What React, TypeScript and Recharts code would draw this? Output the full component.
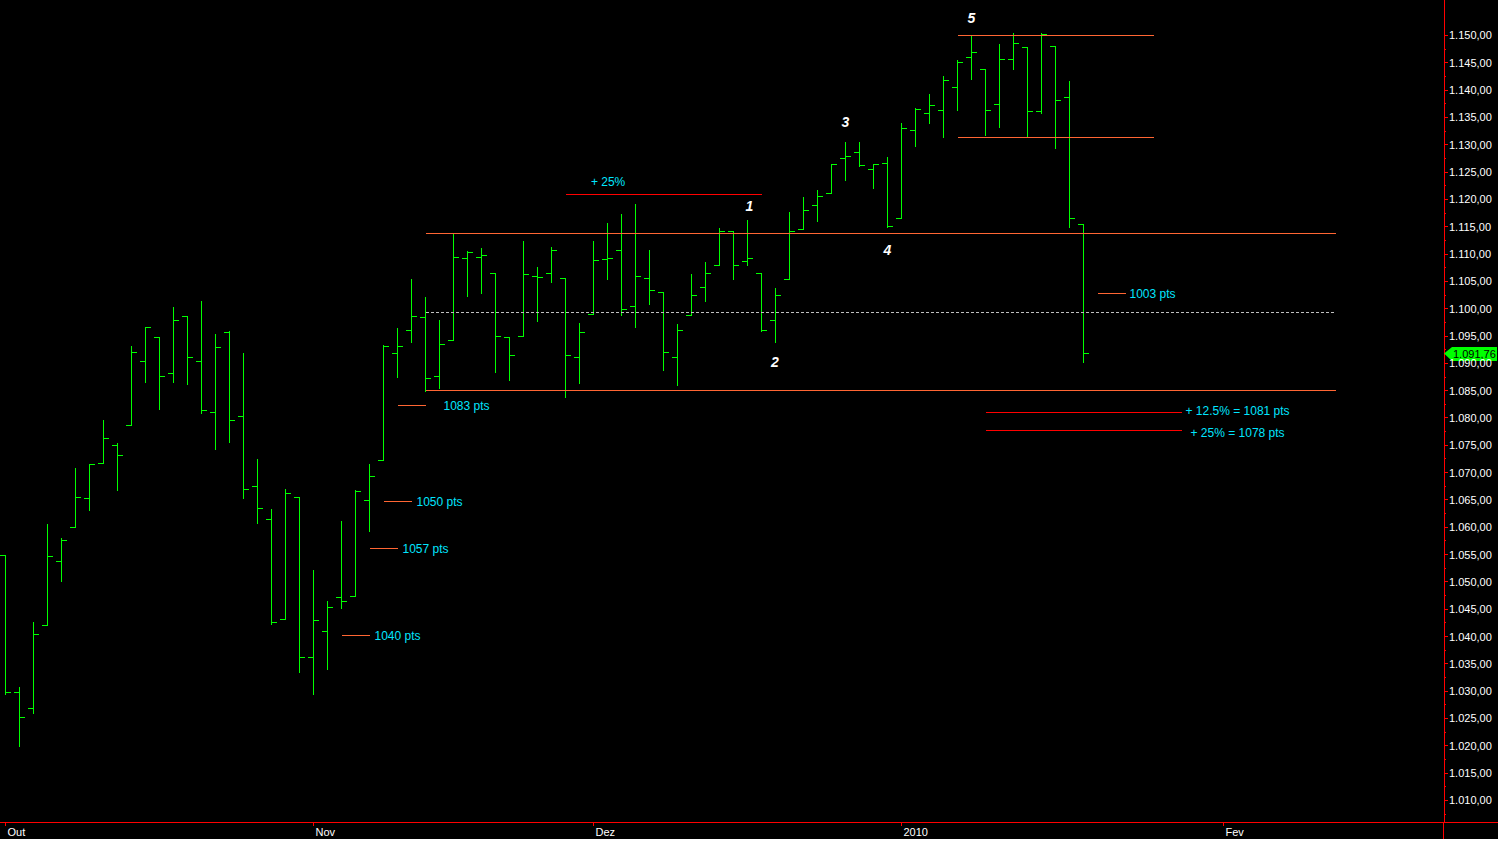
import { ComposedChart, Bar, XAxis, YAxis, ReferenceLine, ReferenceDot } from "recharts"

// S&P 500 daily bars, Oct 2009 - Jan 2010 (index = trading-day slot)
const days = [
  "01/10", "02/10", "05/10", "06/10", "07/10", "08/10", "09/10", "12/10", "13/10", "14/10",
  "15/10", "16/10", "19/10", "20/10", "21/10", "22/10", "23/10", "26/10", "27/10", "28/10",
  "29/10", "30/10", "02/11", "03/11", "04/11", "05/11", "06/11", "09/11", "10/11", "11/11",
  "12/11", "13/11", "16/11", "17/11", "18/11", "19/11", "20/11", "23/11", "24/11", "25/11",
  "27/11", "30/11", "01/12", "02/12", "03/12", "04/12", "07/12", "08/12", "09/12", "10/12",
  "11/12", "14/12", "15/12", "16/12", "17/12", "18/12", "21/12", "22/12", "23/12", "24/12",
  "28/12", "29/12", "30/12", "31/12", "04/01", "05/01", "06/01", "07/01", "08/01", "11/01",
  "12/01", "13/01", "14/01", "15/01", "19/01", "20/01", "21/01", "22/01",
]

const opens = [
  1054.91, 1029.71, 1026.87, 1042.02, 1053.65, 1060.03, 1065.28, 1071.63, 1074.96, 1078.68,
  1090.36, 1094.67, 1088.22, 1098.64, 1090.36, 1080.96, 1095.62, 1080.36, 1067.54, 1061.51,
  1043.19, 1065.41, 1036.18, 1040.92, 1047.14, 1047.3, 1064.95, 1072.31, 1091.86, 1096.04,
  1098.31, 1087.59, 1094.13, 1109.22, 1109.44, 1106.44, 1094.66, 1094.86, 1105.83, 1106.49,
  1105.47, 1091.07, 1098.89, 1109.03, 1110.59, 1100.43, 1105.52, 1103.04, 1091.07, 1098.69,
  1103.96, 1107.84, 1114.11, 1108.61, 1106.36, 1097.86, 1105.31, 1114.51, 1118.84, 1121.08,
  1127.53, 1128.55, 1125.53, 1126.6, 1116.56, 1132.66, 1135.71, 1136.27, 1140.52, 1145.96,
  1143.81, 1137.31, 1145.68, 1147.72, 1136.03, 1147.95, 1138.68, 1115.49,
]
const highs = [
  1054.91, 1030.6, 1042.58, 1060.55, 1058.02, 1070.67, 1071.51, 1079.46, 1075.3, 1093.17,
  1096.56, 1094.67, 1100.17, 1098.64, 1101.36, 1095.21, 1095.83, 1091.75, 1072.48, 1063.26,
  1066.83, 1065.41, 1052.18, 1046.36, 1061.0, 1066.65, 1071.48, 1093.19, 1096.42, 1105.37,
  1101.97, 1097.79, 1113.69, 1110.52, 1111.1, 1106.44, 1094.66, 1112.38, 1107.56, 1111.18,
  1105.47, 1097.24, 1112.28, 1115.58, 1117.28, 1119.13, 1110.72, 1103.04, 1097.04, 1106.25,
  1108.5, 1114.76, 1114.11, 1116.21, 1106.36, 1103.74, 1117.68, 1120.27, 1121.58, 1126.48,
  1130.38, 1130.38, 1126.42, 1127.64, 1133.87, 1136.63, 1139.19, 1142.46, 1145.39, 1149.74,
  1143.81, 1148.4, 1150.41, 1147.77, 1150.45, 1147.95, 1141.58, 1115.49,
]
const lows = [
  1029.45, 1019.95, 1025.92, 1042.02, 1050.1, 1060.03, 1063.0, 1071.63, 1066.71, 1078.68,
  1086.41, 1081.53, 1086.48, 1086.16, 1080.77, 1074.31, 1075.49, 1065.23, 1060.62, 1042.19,
  1043.19, 1033.38, 1029.38, 1033.94, 1045.15, 1047.3, 1059.32, 1072.31, 1087.4, 1093.81,
  1084.9, 1085.33, 1094.13, 1102.19, 1102.7, 1088.4, 1086.81, 1094.86, 1097.63, 1104.75,
  1083.74, 1086.25, 1098.89, 1105.29, 1098.74, 1096.52, 1100.83, 1088.61, 1085.89, 1098.69,
  1101.34, 1107.84, 1105.35, 1107.96, 1095.88, 1093.88, 1105.31, 1114.51, 1116.0, 1121.08,
  1123.51, 1126.08, 1121.94, 1114.81, 1116.56, 1129.66, 1133.95, 1131.32, 1136.22, 1142.02,
  1131.77, 1133.18, 1143.8, 1131.39, 1135.77, 1129.25, 1114.84, 1090.18,
]
const closes = [
  1029.85, 1025.21, 1040.46, 1054.72, 1057.58, 1065.48, 1071.49, 1076.19, 1073.19, 1092.02,
  1096.56, 1087.68, 1097.91, 1091.06, 1081.4, 1092.91, 1079.6, 1066.95, 1063.41, 1042.63,
  1066.11, 1036.19, 1042.88, 1045.41, 1046.5, 1066.63, 1069.3, 1093.08, 1093.01, 1098.51,
  1087.24, 1093.48, 1109.3, 1110.32, 1109.8, 1094.9, 1091.38, 1106.24, 1105.65, 1110.63,
  1091.49, 1095.63, 1108.86, 1109.24, 1099.92, 1105.98, 1103.25, 1091.94, 1095.95, 1102.35,
  1106.41, 1114.11, 1107.93, 1109.18, 1096.08, 1102.47, 1114.05, 1118.02, 1120.59, 1126.48,
  1127.78, 1126.2, 1126.42, 1115.1, 1132.99, 1136.52, 1137.14, 1141.69, 1144.98, 1146.98,
  1136.22, 1145.68, 1148.46, 1136.03, 1150.23, 1138.04, 1116.48, 1091.76,
]

const monthTicks = [0, 22, 42, 64, 87]
const monthLabels = ["Out", "Nov", "Dez", "2010", "Fev"]

const lastPrice = 1091.76

// horizontal levels drawn over the bars
const levels = [
  { from: 68, to: 82, value: 1150.0, kind: "box" },
  { from: 68, to: 82, value: 1131.3, kind: "box" },
  { from: 30, to: 95, value: 1113.7, kind: "box" },
  { from: 30, to: 95, value: 1085.0, kind: "box" },
  { from: 30, to: 95, value: 1099.25, kind: "mid" },
  { from: 40, to: 54, value: 1120.85, kind: "target" },
  { from: 70, to: 84, value: 1080.95, kind: "target" },
  { from: 70, to: 84, value: 1077.65, kind: "target" },
]

// short marker lines with their point labels
const markers = [
  { from: 28, to: 30, value: 1082.3, text: "1083 pts", gap: 18 },
  { from: 27, to: 29, value: 1064.7, text: "1050 pts", gap: 5 },
  { from: 26, to: 28, value: 1056.1, text: "1057 pts", gap: 5 },
  { from: 24, to: 26, value: 1040.2, text: "1040 pts", gap: 5 },
  { from: 78, to: 80, value: 1102.7, text: "1003 pts", gap: 4 },
]

const targetTexts = [
  { x: 84, value: 1081.3, text: "+ 12.5% = 1081 pts", gap: 4 },
  { x: 84, value: 1077.4, text: "+ 25% = 1078 pts", gap: 9 },
]

const waveLabels = [
  { x: 53.14, value: 1118.8, text: "1" },
  { x: 54.96, value: 1090.2, text: "2" },
  { x: 60.0, value: 1134.1, text: "3" },
  { x: 63.0, value: 1110.7, text: "4" },
  { x: 69.0, value: 1153.3, text: "5" },
]

const pctLabel = { x: 43.04, value: 1123.3, text: "+ 25%" }

const FONT = '"Liberation Sans", Arial, sans-serif'
const GREEN = "#00ff00"
const ORANGE = "#ff6633"
const RED = "#ff0000"
const CYAN = "#00e5ff"
const GREY = "#c0c0c0"

// pixel-centred domains: bar slot i sits on column 5 + 14 i, 1150 on row 35
const X_MIN = -5.5 / 14
const X_MAX = 1438.5 / 14
const Y_MAX = 1150 + 35.5 / 5.4643
const Y_MIN = 1010 - 21.5 / 5.4643

const priceTicks: number[] = []
for (let v = 1007.5; v <= 1150; v += 2.5) priceTicks.push(v)

const bars = days.map((d, i) => ({
  i,
  day: d,
  open: opens[i],
  high: highs[i],
  low: lows[i],
  close: closes[i],
  range: [lows[i], highs[i]],
}))

if (typeof document !== "undefined") {
  document.body.style.margin = "0"
}

function fmtPrice(v: number) {
  const cents = Math.round((v - Math.floor(v)) * 100)
  const th = Math.floor(v / 1000)
  const rest = String(Math.floor(v) % 1000).padStart(3, "0")
  return `${th}.${rest},${String(cents).padStart(2, "0")}`
}

function OhlcShape(props: any) {
  const { x, y, width, height, payload } = props
  const cx = Math.floor(x + width / 2 + 0.001) + 0.5
  const top = Math.min(y, y + height)
  const bottom = Math.max(y, y + height)
  const span = payload.high - payload.low
  const toPx = (v: number) => (span === 0 ? top : top + ((payload.high - v) / span) * (bottom - top))
  const oy = Math.floor(toPx(payload.open)) + 0.5
  const cy = Math.floor(toPx(payload.close)) + 0.5
  return (
    <g stroke={GREEN} strokeWidth={1} shapeRendering="crispEdges">
      <line x1={cx} x2={cx} y1={Math.floor(top)} y2={Math.floor(bottom) + 1} />
      <line x1={cx - 5.5} x2={cx} y1={oy} y2={oy} />
      <line x1={cx} x2={cx + 5.5} y1={cy} y2={cy} />
    </g>
  )
}

function MonthTick(props: any) {
  const { x, y, payload } = props
  const k = monthTicks.indexOf(payload.value)
  return (
    <text x={x + 2} y={y} dy="0.71em" fill="#ffffff" fontSize={11} fontFamily={FONT}>
      {monthLabels[k]}
    </text>
  )
}

function PriceTick(props: any) {
  const { x, y, payload } = props
  const v = payload.value
  const major = Math.abs(v % 5) < 1e-6
  const yy = Math.floor(y) + 0.5
  return (
    <g>
      <line x1={x} x2={x + (major ? 4 : 2)} y1={yy} y2={yy} stroke={RED} shapeRendering="crispEdges" />
      {major && (
        <text x={x + 5} y={y} dy="0.36em" fill="#ffffff" fontSize={11} fontFamily={FONT}>
          {fmtPrice(v)}
        </text>
      )}
    </g>
  )
}

const textAt = (text: string, color: string, dx: number, anchor: string, style?: any) => (p: any) => (
  <text
    x={p.cx + dx}
    y={p.cy}
    dy="0.36em"
    fill={color}
    fontSize={12}
    fontFamily={FONT}
    textAnchor={anchor}
    {...style}
  >
    {text}
  </text>
)

function PriceTag(p: any) {
  const { cx, cy } = p
  const r = Math.floor(cy)
  const t = r + 0.5
  return (
    <g>
      <polygon
        points={`${cx},${t} ${cx + 8},${r - 6} ${cx + 53},${r - 6} ${cx + 53},${r + 8} ${cx + 8},${r + 8}`}
        fill={GREEN}
      />
      <text x={cx + 9} y={t + 1} dy="0.36em" fill="#000000" fontSize={11} fontFamily={FONT}>
        {fmtPrice(lastPrice)}
      </text>
    </g>
  )
}

const levelColor: Record<string, string> = { box: ORANGE, mid: GREY, target: RED }

export default function App() {
  return (
    <div style={{ position: "relative", width: 1498, height: 839, background: "#000000" }}>
      <ComposedChart width={1498} height={839} data={bars} margin={{ top: 0, right: 0, bottom: 0, left: 0 }}>
        <XAxis
          type="number"
          dataKey="i"
          domain={[X_MIN, X_MAX]}
          allowDataOverflow
          ticks={monthTicks}
          interval={0}
          height={17}
          axisLine={{ stroke: RED, shapeRendering: "crispEdges" }}
          tickLine={{ stroke: RED, shapeRendering: "crispEdges" }}
          tickSize={4}
          tickMargin={2}
          tick={(p: any) => <MonthTick {...p} />}
        />
        <YAxis
          orientation="right"
          type="number"
          domain={[Y_MIN, Y_MAX]}
          allowDataOverflow
          ticks={priceTicks}
          interval={0}
          width={54}
          axisLine={{ stroke: RED, shapeRendering: "crispEdges" }}
          tickLine={false}
          tickSize={0}
          tickMargin={0}
          tick={(p: any) => <PriceTick {...p} />}
        />
        <Bar dataKey="range" barSize={10} isAnimationActive={false} shape={(p: any) => <OhlcShape {...p} />} />
        {levels.map((l, k) => (
          <ReferenceLine
            key={`lv${k}`}
            segment={[
              { x: l.from, y: l.value },
              { x: l.to, y: l.value },
            ]}
            stroke={levelColor[l.kind]}
            strokeWidth={1}
            strokeDasharray={l.kind === "mid" ? "3 2" : undefined}
            shapeRendering="crispEdges"
          />
        ))}
        {markers.map((m, k) => (
          <ReferenceLine
            key={`mk${k}`}
            segment={[
              { x: m.from, y: m.value },
              { x: m.to, y: m.value },
            ]}
            stroke={ORANGE}
            strokeWidth={1}
            shapeRendering="crispEdges"
          />
        ))}
        {markers.map((m, k) => (
          <ReferenceDot key={`mt${k}`} x={m.to} y={m.value} r={1} shape={textAt(m.text, CYAN, m.gap, "start")} />
        ))}
        {targetTexts.map((m, k) => (
          <ReferenceDot key={`tt${k}`} x={m.x} y={m.value} r={1} shape={textAt(m.text, CYAN, m.gap, "start")} />
        ))}
        <ReferenceDot x={pctLabel.x} y={pctLabel.value} r={1} shape={textAt(pctLabel.text, CYAN, 0, "middle")} />
        {waveLabels.map((w, k) => (
          <ReferenceDot
            key={`wv${k}`}
            x={w.x}
            y={w.value}
            r={1}
            shape={textAt(w.text, "#ffffff", 0, "middle", { fontSize: 14, fontStyle: "italic", fontWeight: "bold" })}
          />
        ))}
        <ReferenceDot x={X_MAX} y={lastPrice} r={1} shape={(p: any) => <PriceTag {...p} />} />
      </ComposedChart>
      <div style={{ position: "absolute", left: 1444, top: 822, width: 54, height: 1, background: RED }} />
      <div style={{ position: "absolute", left: 1443, top: 822, width: 1, height: 17, background: RED }} />
    </div>
  )
}
